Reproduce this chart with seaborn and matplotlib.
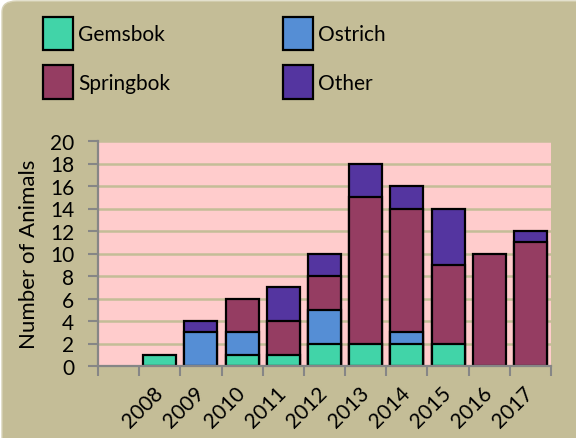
import pandas as pd
import matplotlib.pyplot as plt
import seaborn as sns
from matplotlib.patches import Patch, FancyBboxPatch

# data (first slot is an empty category)
years = ["", "2008", "2009", "2010", "2011", "2012", "2013", "2014", "2015", "2016", "2017"]
gemsbok = [0, 1, 0, 1, 1, 2, 2, 2, 2, 0, 0]
ostrich = [0, 0, 3, 2, 0, 3, 0, 1, 0, 0, 0]
springbok = [0, 0, 0, 3, 3, 3, 13, 11, 7, 10, 11]
other = [0, 0, 1, 0, 3, 2, 3, 2, 5, 0, 1]

species = ["Gemsbok", "Ostrich", "Springbok", "Other"]
colors = {"Gemsbok": "#41D4A8", "Ostrich": "#558ED5", "Springbok": "#953D62", "Other": "#5435A0"}

TAN = "#C4BD97"

df = pd.DataFrame({"year": years, "Gemsbok": gemsbok, "Ostrich": ostrich,
                   "Springbok": springbok, "Other": other})

# cumulative tops for stacking; a zero segment adds nothing, so drop it
cum = df[species].cumsum(axis=1)
for sp in species:
    cum[sp] = cum[sp].where(df[sp] > 0)
cum["year"] = df["year"]

sns.set_style("white")
plt.rcParams["font.family"] = ["Lato", "DejaVu Sans"]
plt.rcParams["text.color"] = "black"
plt.rcParams["xtick.color"] = "black"
plt.rcParams["ytick.color"] = "black"
plt.rcParams["axes.labelcolor"] = "black"

fig = plt.figure(figsize=(5.76, 4.39), dpi=100)
fig.patch.set_facecolor("white")
bg = FancyBboxPatch((2 / 576, -0.5), 1.5, 1.5 - 2 / 439,
                    boxstyle="round,pad=0,rounding_size=0.025",
                    transform=fig.transFigure, facecolor=TAN, edgecolor="#D8D3B8",
                    linewidth=1, zorder=-5)
fig.patches.append(bg)

ax = fig.add_axes([98 / 576, 1 - 367 / 439, 453 / 576, 225 / 439])
ax.set_zorder(2)
ax.set_facecolor("#FFCCCC")

# draw from the tallest cumulative bar down so the lower segments sit on top
for sp in reversed(species):
    sns.barplot(data=cum, x="year", y=sp, order=years, color=colors[sp],
                saturation=1, width=0.8, edgecolor="black", linewidth=1.6,
                ax=ax, zorder=3, errorbar=None)

ax.set_ylim(0, 20)
ax.set_xlim(-0.5, len(years) - 0.5)
ax.set_yticks(range(0, 21, 2))
ax.yaxis.grid(True, color=TAN, linewidth=1.8, zorder=0)
ax.set_axisbelow(True)

ax.set_xlabel("")
ax.set_ylabel("Number of Animals", fontsize=16, labelpad=8)

for s in ["top", "right"]:
    ax.spines[s].set_visible(False)
for s in ["left", "bottom"]:
    ax.spines[s].set_color("#868686")
    ax.spines[s].set_linewidth(1.6)
    ax.spines[s].set_zorder(4)

ax.tick_params(axis="y", direction="out", length=7, width=1.5, color="#868686",
               labelsize=15, pad=10, left=True)
ax.set_xticks(range(len(years)))
ax.set_xticklabels(years, rotation=45, ha="right", va="center",
                   rotation_mode="anchor", fontsize=15)
ax.tick_params(axis="x", length=0, pad=17)
ax.set_xticks([i - 0.5 for i in range(len(years) + 1)], minor=True)
ax.tick_params(axis="x", which="minor", direction="out", length=7, width=1.5,
               color="#868686", bottom=True)

handles = [Patch(facecolor=colors[sp], edgecolor="black", linewidth=1.6, label=sp)
           for sp in species]
# order so that rows read Gemsbok/Ostrich, Springbok/Other
handles = [handles[0], handles[2], handles[1], handles[3]]
fig.legend(handles=handles, ncol=2, loc="upper left", bbox_to_anchor=(26 / 576, 1 - 1 / 439),
           frameon=False, fontsize=15, handlelength=1.45, handleheight=2.1,
           handletextpad=0.25, columnspacing=5.4, labelspacing=0.72, borderpad=0.3)

fig.savefig("out.png", dpi=100, facecolor=fig.get_facecolor())
